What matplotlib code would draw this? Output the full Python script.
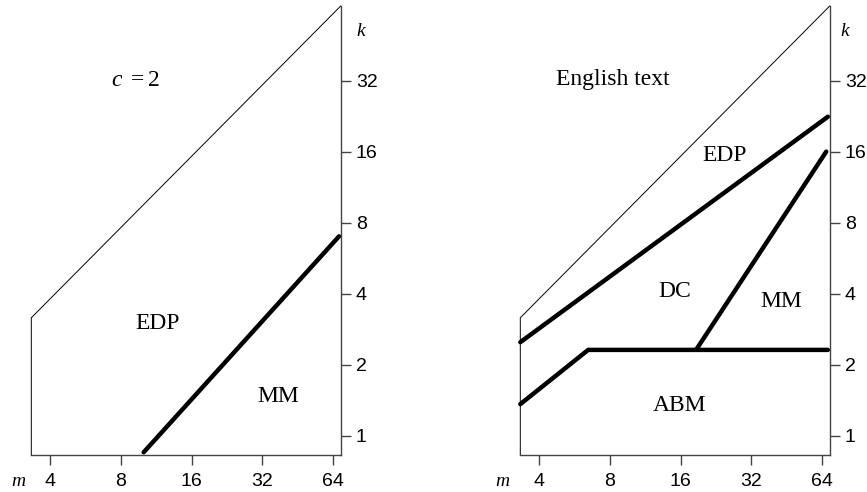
import matplotlib
matplotlib.use("Agg")
import matplotlib.pyplot as plt
from matplotlib.ticker import FixedLocator, FixedFormatter, NullLocator

plt.rcParams['mathtext.fontset'] = 'custom'
plt.rcParams['mathtext.rm'] = 'Liberation Serif'
plt.rcParams['mathtext.it'] = 'Liberation Serif:italic'

# axis ticks (log2 scales)
m_ticks = [4, 8, 16, 32, 64]
k_ticks = [1, 2, 4, 8, 16, 32]
m_lim = (3.33, 68.8)
k_lim = (0.828, 66.3)

# feasible region: left edge up to the corner, then the diagonal
region_m = [3.33, 3.33, 68.8]
region_k = [0.828, 3.16, 66.3]

# c = 2 panel: EDP / MM boundary
left_bound_m = [10.0, 67.7]
left_bound_k = [0.85, 7.0]
left_labels = ["EDP", "MM"]
left_label_m = [11.5, 37.3]
left_label_k = [3.0, 1.46]

# second panel boundaries
edp_dc_m = [3.33, 67.6]
edp_dc_k = [2.49, 22.5]
abm_m = [3.33, 6.47, 67.6]
abm_k = [1.36, 2.31, 2.31]
mm_m = [18.6, 66.5]
mm_k = [2.31, 16.0]
right_labels = ["EDP", "DC", "MM", "ABM"]
right_label_m = [24.5, 15.1, 42.8, 15.8]
right_label_k = [15.4, 4.1, 3.7, 1.34]

W, H = 867, 492
fig = plt.figure(figsize=(W / 100, H / 100), dpi=100)

def make_axes(x0, x1, y_top=6, y_bot=455):
    ax = fig.add_axes([x0 / W, 1 - y_bot / H, (x1 - x0) / W, (y_bot - y_top) / H])
    ax.set_xscale('log', base=2)
    ax.set_yscale('log', base=2)
    ax.set_xlim(*m_lim)
    ax.set_ylim(*k_lim)
    ax.patch.set_visible(False)
    for s in ['top', 'left']:
        ax.spines[s].set_visible(False)
    for s in ['bottom', 'right']:
        ax.spines[s].set_color('#444444')
        ax.spines[s].set_linewidth(1.0)
    ax.xaxis.set_major_locator(FixedLocator(m_ticks))
    ax.xaxis.set_major_formatter(FixedFormatter([str(v) for v in m_ticks]))
    ax.yaxis.set_major_locator(FixedLocator(k_ticks))
    ax.yaxis.set_major_formatter(FixedFormatter([str(v) for v in k_ticks]))
    ax.xaxis.set_minor_locator(NullLocator())
    ax.yaxis.set_minor_locator(NullLocator())
    ax.yaxis.tick_right()
    ax.tick_params(axis='x', direction='out', length=7.5, width=1.0, color='#444444',
                   pad=5.5, labelsize=14)
    ax.tick_params(axis='y', direction='out', length=7.5, width=1.0, color='#444444',
                   pad=3.5, labelsize=14)
    for lab in ax.get_xticklabels() + ax.get_yticklabels():
        lab.set_family('Liberation Sans')
    ax.plot(region_m, region_k, color='black', lw=0.7, clip_on=False)
    return ax

serif = 'Liberation Serif'
thick = dict(color='black', lw=3.2, solid_capstyle='round', solid_joinstyle='round',
             clip_on=False)

# left panel
ax1 = make_axes(31.3, 340.7)
ax1.plot(left_bound_m, left_bound_k, **thick)
for t, mx, ky in zip(left_labels, left_label_m, left_label_k):
    ax1.text(mx, ky, t, family=serif, fontsize=17, ha='center', va='center')
ax1.text(9.19, 32.5, r'$c\ = 2$', fontsize=17, ha='center', va='center')

# right panel
ax2 = make_axes(520.3, 829.7)
ax2.plot(edp_dc_m, edp_dc_k, **thick)
ax2.plot(abm_m, abm_k, **thick)
ax2.plot(mm_m, mm_k, **thick)
for t, mx, ky in zip(right_labels, right_label_m, right_label_k):
    ax2.text(mx, ky, t, family=serif, fontsize=17, ha='center', va='center')
ax2.text(8.2, 32.2, 'English text', family=serif, fontsize=17, ha='center', va='center')

# axis names
for xk, xm in [(361, 18), (845, 502)]:
    fig.text(xk / W, 1 - 32 / H, 'k', family=serif, style='italic', fontsize=14,
             ha='center', va='center')
    fig.text(xm / W, 1 - 481 / H, 'm', family=serif, style='italic', fontsize=14,
             ha='center', va='center')

fig.savefig('out.png', dpi=100)
